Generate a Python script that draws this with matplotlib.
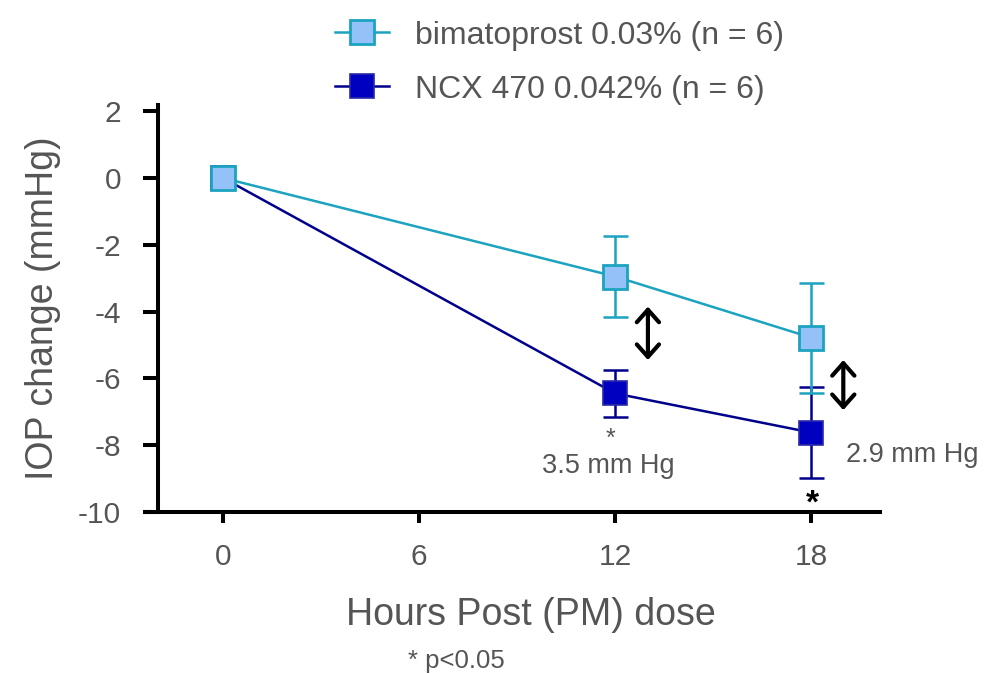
import numpy as np
import matplotlib.pyplot as plt
from matplotlib.lines import Line2D

plt.rcParams['font.family'] = ['Liberation Sans', 'DejaVu Sans']
plt.rcParams['axes.unicode_minus'] = False

hours = [0, 12, 18]
bimat_mean = [0.0, -2.95, -4.78]
bimat_sem = [0.0, 1.22, 1.65]
ncx_mean = [0.0, -6.45, -7.62]
ncx_sem = [0.0, 0.70, 1.37]
x_ticks = [0, 6, 12, 18]
y_ticks = [2, 0, -2, -4, -6, -8, -10]
labels = ['bimatoprost 0.03% (n = 6)', 'NCX 470 0.042% (n = 6)']

gray = '#555555'
light_line = '#1ba3bf'
light_fill = '#94c2f8'
dark_line = '#00008b'
dark_fill = '#0000c0'

fig = plt.figure(figsize=(10.04, 6.73), dpi=100)
ax = fig.add_axes([0.1474, 0.2392, 0.729, 0.6055])

ax.errorbar(hours[1:], ncx_mean[1:], yerr=ncx_sem[1:], fmt='none', ecolor=dark_line,
            elinewidth=1.8, capsize=9, capthick=1.8, zorder=2)
ax.errorbar(hours[1:], bimat_mean[1:], yerr=bimat_sem[1:], fmt='none', ecolor=light_line,
            elinewidth=1.8, capsize=9, capthick=1.8, zorder=2)
ax.plot(hours, ncx_mean, color=dark_line, lw=1.8, marker='s', ms=17,
        mfc=dark_fill, mec='#2a2aa8', mew=1.2, zorder=3)
ax.plot(hours, bimat_mean, color=light_line, lw=1.8, marker='s', ms=17,
        mfc=light_fill, mec=light_line, mew=2, zorder=4)

# difference arrows
arrow = dict(arrowstyle='<->, head_length=0.45, head_width=0.4', lw=3, color='black',
             mutation_scale=20, shrinkA=0, shrinkB=0)
ax.annotate('', xy=(13.0, -3.85), xytext=(13.0, -5.45), arrowprops=arrow)
ax.annotate('', xy=(18.98, -5.45), xytext=(18.98, -6.95), arrowprops=arrow)

ax.text(11.85, -7.8, '*', color=gray, fontsize=18, ha='center', va='center')
ax.text(11.8, -8.62, '3.5 mm Hg', color=gray, fontsize=19.5, ha='center', va='center')
ax.text(21.1, -8.3, '2.9 mm Hg', color=gray, fontsize=19.5, ha='center', va='center')
ax.text(18.03, -9.75, '*', color='black', fontsize=24, fontweight='bold', ha='center', va='center')

ax.set_xlim(-2.3, 20.1)
ax.set_ylim(-10, 2.2)
ax.spines['top'].set_visible(False)
ax.spines['right'].set_visible(False)
ax.spines['left'].set_position(('data', -1.98))
for s in ['left', 'bottom']:
    ax.spines[s].set_linewidth(2.9)

ax.set_xticks(x_ticks)
ax.set_yticks(y_ticks)
ax.tick_params(axis='x', direction='out', length=8, width=2.9, pad=14,
               labelsize=21.5, labelcolor=gray)
ax.tick_params(axis='y', direction='out', length=11, width=2.9, pad=16,
               labelsize=21.5, labelcolor=gray)

ax.set_xlabel('Hours Post (PM) dose', fontsize=27, color=gray, va='center')
ax.xaxis.set_label_coords(0.523, -0.253)
ax.set_ylabel('IOP change (mmHg)', fontsize=27, color=gray, labelpad=12)

fig.text(0.455, 1 - 668 / 673, '* p<0.05', fontsize=18.5, color=gray,
         ha='center', va='baseline')

handles = [
    Line2D([], [], color=light_line, lw=1.8, marker='s', ms=17, mfc=light_fill,
           mec=light_line, mew=2),
    Line2D([], [], color=dark_line, lw=1.8, marker='s', ms=17, mfc=dark_fill,
           mec='#2a2aa8', mew=1.2),
]
leg = fig.legend(handles, labels, loc='upper left', bbox_to_anchor=(0.305, 1.012),
                 frameon=False, fontsize=23, handlelength=1.7, labelspacing=0.75,
                 handletextpad=0.8)
for t in leg.get_texts():
    t.set_color(gray)

fig.savefig('out.png', dpi=100)
